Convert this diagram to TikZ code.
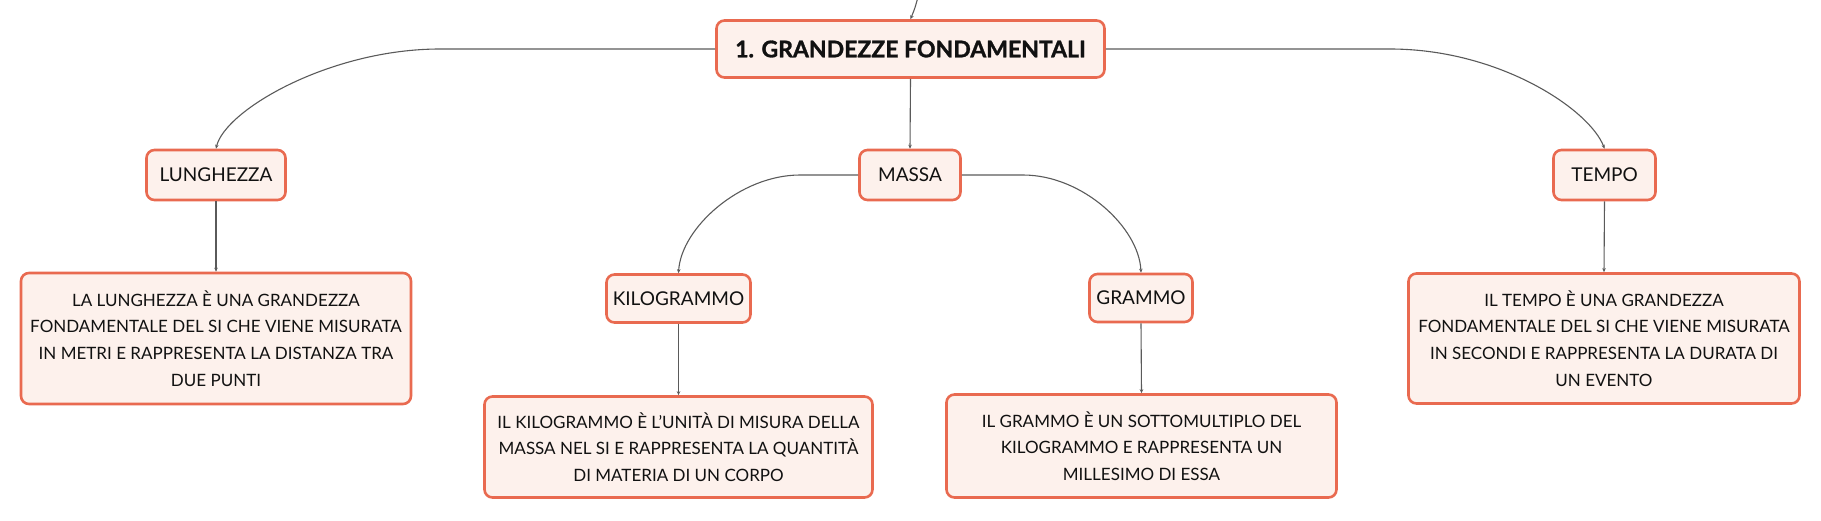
\documentclass[tikz,border=0pt]{standalone}
\usepackage{fontspec}
\setmainfont{Lato}
\newfontfamily\titlefont{Lato}[BoldFeatures={FakeBold=1.3}]
\usetikzlibrary{arrows.meta}
\definecolor{bordc}{HTML}{E96A50}
\definecolor{fillc}{HTML}{FDF1EC}
\definecolor{linec}{HTML}{5A5A5A}
\definecolor{txtc}{HTML}{111111}
\begin{document}
\begin{tikzpicture}[x=1pt,y=-1pt,
  box/.style={draw=bordc, line width=2.6pt, fill=fillc, rounded corners=8pt,
    inner sep=0pt, text=txtc, font=\fontsize{19}{26.7}\selectfont, align=center},
  descbox/.style={box, font=\fontsize{17}{26.7}\selectfont},
  titlebox/.style={box, font=\fontsize{23}{28}\selectfont\titlefont\bfseries},
  conn/.style={draw=linec, line width=1.1pt, -{Stealth[length=4pt,width=3.5pt]}}
]
\useasboundingbox (0,0) rectangle (1821,520);

\node[titlebox, minimum width=388pt, minimum height=57pt] (title) at (910.5,49) {1. GRANDEZZE FONDAMENTALI};

\node[box, minimum width=139pt, minimum height=50pt] (lung) at (216,175) {LUNGHEZZA};
\node[box, minimum width=101pt, minimum height=50pt] (massa) at (910,175) {MASSA};
\node[box, minimum width=102pt, minimum height=50pt] (tempo) at (1604.5,175) {TEMPO};

\node[box, minimum width=144pt, minimum height=48pt] (kilo) at (678.5,298.5) {KILOGRAMMO};
\node[box, minimum width=103pt, minimum height=48pt] (grammo) at (1141,298) {GRAMMO};

\node[descbox, minimum width=390pt, minimum height=131pt] (lungdesc) at (216,338.5)
  {LA LUNGHEZZA È UNA GRANDEZZA\\FONDAMENTALE DEL SI CHE VIENE MISURATA\\IN METRI E RAPPRESENTA LA DISTANZA TRA\\DUE PUNTI};
\node[descbox, minimum width=388pt, minimum height=101pt] (kilodesc) at (678.5,447)
  {IL KILOGRAMMO È L'UNITÀ DI MISURA DELLA\\MASSA NEL SI E RAPPRESENTA LA QUANTITÀ\\DI MATERIA DI UN CORPO};
\node[descbox, minimum width=390pt, minimum height=103pt] (grammodesc) at (1141.5,446)
  {IL GRAMMO È UN SOTTOMULTIPLO DEL\\KILOGRAMMO E RAPPRESENTA UN\\MILLESIMO DI ESSA};
\node[descbox, minimum width=391pt, minimum height=130pt] (tempodesc) at (1604,338.5)
  {IL TEMPO È UNA GRANDEZZA\\FONDAMENTALE DEL SI CHE VIENE MISURATA\\IN SECONDI E RAPPRESENTA LA DURATA DI\\UN EVENTO};

\coordinate (parent) at (918,-3);
\draw[conn] (parent) .. controls (915,8) .. (title.north);

\draw[conn] (title.west) -- (440,49) .. controls (330,49) and (225,110) .. (lung.north);
\draw[conn] (title.east) -- (1390,49) .. controls (1500,49) and (1590,110) .. (tempo.north);
\draw[conn] (title.south) -- (massa.north);

\draw[conn] (massa.west) -- (800,175) .. controls (740,175) and (681,228) .. (kilo.north);
\draw[conn] (massa.east) -- (1023,175) .. controls (1083,175) and (1139,228) .. (grammo.north);

\draw[conn] (lung.south) -- (lungdesc.north);
\draw[conn] (kilo.south) -- (kilodesc.north);
\draw[conn] (grammo.south) -- (grammodesc.north);
\draw[conn] (tempo.south) -- (tempodesc.north);
\end{tikzpicture}
\end{document}
